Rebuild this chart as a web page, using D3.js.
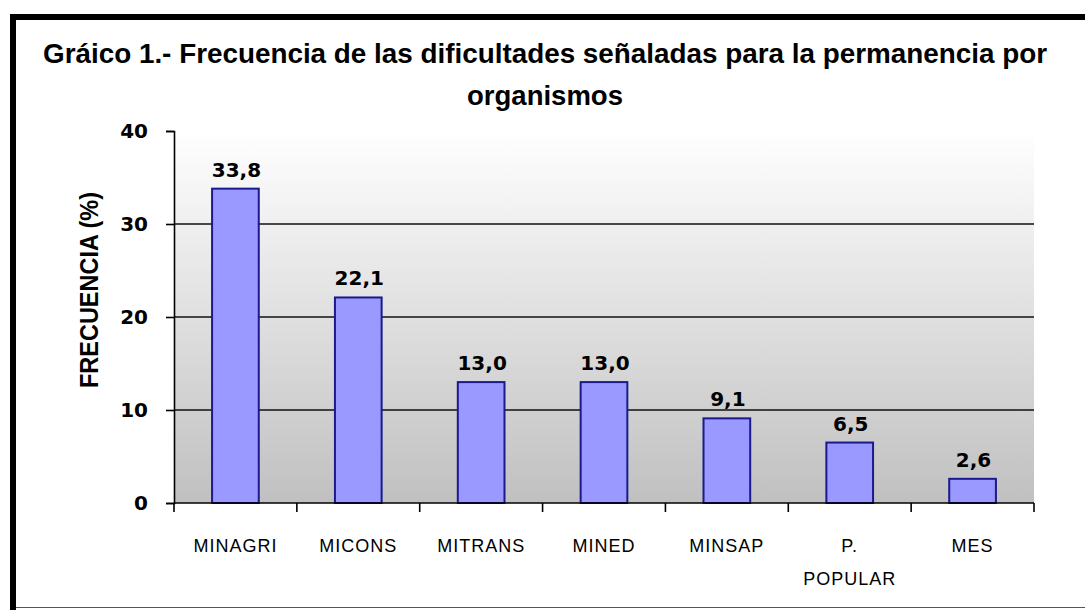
<!DOCTYPE html>
<html>
<head>
<meta charset="utf-8">
<script src="https://cdn.jsdelivr.net/npm/d3@7"></script>
<style>
  body { margin: 0; background: #fff; }
  svg { display: block; }
</style>
</head>
<body>
<svg id="chart" width="1085" height="610"></svg>
<script>
// data
const organismos = ["MINAGRI", "MICONS", "MITRANS", "MINED", "MINSAP", "P. POPULAR", "MES"];
const frecuencia = [33.8, 22.1, 13.0, 13.0, 9.1, 6.5, 2.6];
const yTicks = [0, 10, 20, 30, 40];
const titulo = ["Gráico 1.- Frecuencia de las dificultades señaladas para la permanencia por", "organismos"];
const yTitulo = "FRECUENCIA (%)";

const svg = d3.select("#chart");

const plot = { left: 174, right: 1034, top: 131, bottom: 503 };

let x = d3.scaleBand()
    .domain(organismos)
    .range([plot.left, plot.right])
    .paddingInner(0.62)
    .paddingOuter(0.31);

let y = d3.scaleLinear()
    .domain([0, 40])
    .range([plot.bottom, plot.top]);

// frame (thick top / left, thin bottom)
svg.append("rect").attr("x", 10).attr("y", 14).attr("width", 1075).attr("height", 6).attr("fill", "#000");
svg.append("rect").attr("x", 10).attr("y", 14).attr("width", 6).attr("height", 596).attr("fill", "#000");
svg.append("line").attr("x1", 16).attr("x2", 1085).attr("y1", 607.5).attr("y2", 607.5)
    .attr("stroke", "#555").attr("stroke-width", 1);

// plot background gradient
const grad = svg.append("defs").append("linearGradient")
    .attr("id", "bg").attr("x1", 0).attr("y1", 0).attr("x2", 0).attr("y2", 1);
grad.append("stop").attr("offset", "0%").attr("stop-color", "#ffffff");
grad.append("stop").attr("offset", "100%").attr("stop-color", "#c0c0c0");

svg.append("rect")
    .attr("x", plot.left).attr("y", y(40))
    .attr("width", plot.right - plot.left).attr("height", y(0) - y(40))
    .attr("fill", "url(#bg)");

// gridlines
svg.append("g")
    .selectAll("line")
    .data(yTicks.filter(function(d) { return d > 0 && d < 40; }))
    .enter().append("line")
    .attr("x1", plot.left).attr("x2", plot.right)
    .attr("y1", function(d) { return y(d); })
    .attr("y2", function(d) { return y(d); })
    .attr("stroke", "#111").attr("stroke-width", 1.6);

// bars
svg.append("g")
    .selectAll("rect")
    .data(frecuencia)
    .enter().append("rect")
    .attr("x", function(d, i) { return x(organismos[i]); })
    .attr("y", function(d) { return y(d); })
    .attr("width", x.bandwidth())
    .attr("height", function(d) { return y(0) - y(d); })
    .attr("fill", "#9999ff")
    .attr("stroke", "#1a1a8c")
    .attr("stroke-width", 2);

// value labels
svg.append("g")
    .selectAll("text")
    .data(frecuencia)
    .enter().append("text")
    .attr("x", function(d, i) { return x(organismos[i]) + x.bandwidth() / 2 + 1; })
    .attr("y", function(d) { return y(d) - 12; })
    .attr("text-anchor", "middle")
    .style("font-family", "'DejaVu Sans', sans-serif")
    .style("font-weight", "bold")
    .style("font-size", "20px")
    .style("fill", "#000")
    .text(function(d) { return d.toFixed(1).replace(".", ","); });

// y axis
let yAxis = d3.axisLeft(y).tickValues(yTicks).tickSize(8).tickPadding(18);
let yg = svg.append("g")
    .attr("transform", "translate(" + plot.left + ",0)")
    .call(yAxis);
yg.select(".domain").attr("stroke", "#000").attr("stroke-width", 1.6);
yg.selectAll(".tick line").attr("stroke", "#000").attr("stroke-width", 1.6);
yg.selectAll(".tick text")
    .style("font-family", "'DejaVu Sans', sans-serif")
    .style("font-weight", "bold")
    .style("font-size", "20px")
    .style("fill", "#000");

// x axis line + ticks at category boundaries
svg.append("line")
    .attr("x1", plot.left).attr("x2", plot.right)
    .attr("y1", y(0)).attr("y2", y(0))
    .attr("stroke", "#000").attr("stroke-width", 1.6);

let bounds = organismos.map(function(d) { return x(d) + x.bandwidth() / 2 - x.step() / 2; });
bounds.push(plot.right);
svg.append("g")
    .selectAll("line")
    .data(bounds)
    .enter().append("line")
    .attr("x1", function(d) { return d; }).attr("x2", function(d) { return d; })
    .attr("y1", y(0)).attr("y2", y(0) + 9)
    .attr("stroke", "#000").attr("stroke-width", 1.6);

// category labels (wrap on space after "P.")
let xl = svg.append("g")
    .selectAll("text")
    .data(organismos)
    .enter().append("text")
    .attr("x", function(d) { return x(d) + x.bandwidth() / 2; })
    .attr("y", 552)
    .attr("text-anchor", "middle")
    .style("font-family", "'Liberation Sans', Arial, sans-serif")
    .style("font-size", "18px")
    .style("letter-spacing", "1px")
    .style("fill", "#000");
xl.each(function(d) {
    const parts = d.split(" ");
    const t = d3.select(this);
    parts.forEach(function(p, i) {
        t.append("tspan")
            .attr("x", x(d) + x.bandwidth() / 2)
            .attr("dy", i === 0 ? 0 : 33)
            .text(p);
    });
});

// title
svg.append("text")
    .attr("x", 545).attr("y", 63)
    .attr("text-anchor", "middle")
    .attr("textLength", 1004)
    .attr("lengthAdjust", "spacingAndGlyphs")
    .style("font-family", "'Liberation Sans', Arial, sans-serif")
    .style("font-weight", "bold")
    .style("font-size", "27px")
    .text(titulo[0]);
svg.append("text")
    .attr("x", 545).attr("y", 105)
    .attr("text-anchor", "middle")
    .attr("textLength", 156)
    .attr("lengthAdjust", "spacingAndGlyphs")
    .style("font-family", "'Liberation Sans', Arial, sans-serif")
    .style("font-weight", "bold")
    .style("font-size", "27px")
    .text(titulo[1]);

// y axis title
svg.append("text")
    .attr("transform", "translate(98,290) rotate(-90)")
    .attr("text-anchor", "middle")
    .attr("textLength", 196)
    .attr("lengthAdjust", "spacingAndGlyphs")
    .style("font-family", "'Liberation Sans', Arial, sans-serif")
    .style("font-weight", "bold")
    .style("font-size", "25px")
    .text(yTitulo);
</script>
</body>
</html>
